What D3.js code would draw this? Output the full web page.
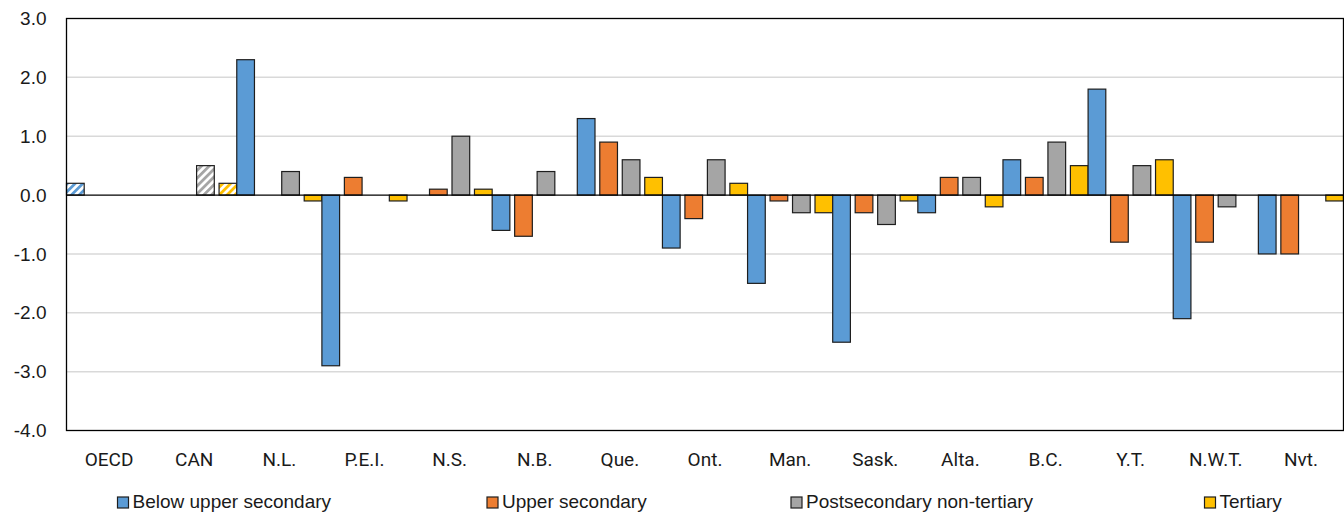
<!DOCTYPE html>
<html>
<head>
<meta charset="utf-8">
<script src="https://cdn.jsdelivr.net/npm/d3@7"></script>
<style>
  html, body { margin: 0; padding: 0; background: #fff; }
  svg { display: block; }
</style>
</head>
<body>
<svg id="chart" width="1344" height="515"></svg>
<script>
// ---- Data ----
const categories = ["OECD","CAN","N.L.","P.E.I.","N.S.","N.B.","Que.","Ont.","Man.","Sask.","Alta.","B.C.","Y.T.","N.W.T.","Nvt."];
const seriesNames = ["Below upper secondary","Upper secondary","Postsecondary non-tertiary","Tertiary"];
const belowUpperSecondary = [0.2, null, 2.3, -2.9, null, -0.6, 1.3, -0.9, -1.5, -2.5, -0.3, 0.6, 1.8, -2.1, -1.0];
const upperSecondary      = [null, null, null, 0.3, 0.1, -0.7, 0.9, -0.4, -0.1, -0.3, 0.3, 0.3, -0.8, -0.8, -1.0];
const postsecNonTertiary  = [null, 0.5, 0.4, null, 1.0, 0.4, 0.6, 0.6, -0.3, -0.5, 0.3, 0.9, 0.5, -0.2, null];
const tertiary            = [null, 0.2, -0.1, -0.1, 0.1, null, 0.3, 0.2, -0.3, -0.1, -0.2, 0.5, 0.6, null, -0.1];
const hatchedCategories = ["OECD","CAN"];
const yTicks = [3, 2, 1, 0, -1, -2, -3, -4];

// ---- Layout / style ----
const colors = ["#5B9BD5", "#ED7D31", "#A5A5A5", "#FFC000"];
const plot = { left: 66.5, right: 1343.5, top: 18.5, bottom: 430.5 };
const legendX = [117.5, 487, 791, 1204.5];

const seriesValues = [belowUpperSecondary, upperSecondary, postsecNonTertiary, tertiary];

const svg = d3.select("#chart");

// hatch patterns
const defs = svg.append("defs");
colors.forEach((c, i) => {
  const p = defs.append("pattern")
    .attr("id", "hatch" + i)
    .attr("patternUnits", "userSpaceOnUse")
    .attr("width", 5.5).attr("height", 5.5)
    .attr("patternTransform", "rotate(45)");
  p.append("rect").attr("width", 5.5).attr("height", 5.5).attr("fill", "#fff");
  p.append("line").attr("x1", 1.4).attr("y1", 0).attr("x2", 1.4).attr("y2", 5.5)
    .attr("stroke", c).attr("stroke-width", 2.8);
});

const x = d3.scaleBand().domain(categories).range([plot.left, plot.right]).padding(0);
const xi = d3.scaleBand().domain(d3.range(4)).range([0, x.bandwidth()]).paddingInner(0.213).paddingOuter(0);
const y = d3.scaleLinear().domain([-4, 3]).range([plot.bottom, plot.top]);

// gridlines
svg.append("g").selectAll("line")
  .data(yTicks.filter(t => t !== 0 && t !== 3 && t !== -4))
  .join("line")
  .attr("x1", plot.left).attr("x2", plot.right)
  .attr("y1", d => y(d)).attr("y2", d => y(d))
  .attr("stroke", "#d9d9d9").attr("stroke-width", 1.5);

// y axis labels
const yAxis = d3.axisLeft(y).tickValues(yTicks).tickFormat(d => d.toFixed(1)).tickSize(0).tickPadding(20);
const yg = svg.append("g").attr("transform", `translate(${plot.left},0)`).call(yAxis);
yg.select(".domain").remove();
yg.selectAll("text")
  .attr("font-family", "'Liberation Sans', Arial, sans-serif")
  .attr("font-size", 19).attr("fill", "#1a1a1a");

// bars
const flat = [];
categories.forEach((c, ci) => {
  seriesValues.forEach((arr, si) => {
    const v = arr[ci];
    if (v !== null && v !== undefined) flat.push({ c, si, v, hatch: hatchedCategories.includes(c) });
  });
});
svg.append("g").selectAll("rect")
  .data(flat)
  .join("rect")
  .attr("x", d => x(d.c) + xi(d.si))
  .attr("width", xi.bandwidth())
  .attr("y", d => Math.min(y(0), y(d.v)))
  .attr("height", d => Math.abs(y(d.v) - y(0)))
  .attr("fill", d => d.hatch ? `url(#hatch${d.si})` : colors[d.si])
  .attr("stroke", "#1e1e1e").attr("stroke-width", 1.2);

// zero line
svg.append("line")
  .attr("x1", plot.left).attr("x2", plot.right)
  .attr("y1", y(0)).attr("y2", y(0))
  .attr("stroke", "#000").attr("stroke-width", 1.3);

// frame
svg.append("rect")
  .attr("x", plot.left).attr("y", plot.top)
  .attr("width", plot.right - plot.left).attr("height", plot.bottom - plot.top)
  .attr("fill", "none").attr("stroke", "#000").attr("stroke-width", 1.3);

// category labels
const xAxis = d3.axisBottom(x).tickSize(0).tickPadding(22);
const xg = svg.append("g").attr("transform", `translate(0,${plot.bottom})`).call(xAxis);
xg.select(".domain").remove();
xg.selectAll("text")
  .attr("font-family", "Roboto, 'Liberation Sans', sans-serif")
  .attr("font-size", 19).attr("fill", "#1a1a1a");

// legend
const lg = svg.append("g").selectAll("g")
  .data(seriesNames)
  .join("g")
  .attr("transform", (d, i) => `translate(${legendX[i]},497)`);
lg.append("rect").attr("width", 11).attr("height", 11)
  .attr("fill", (d, i) => colors[i]).attr("stroke", "#1e1e1e").attr("stroke-width", 1.2);
lg.append("text").attr("x", 15).attr("y", 11)
  .attr("font-family", "'Liberation Sans', Arial, sans-serif")
  .attr("font-size", 19).attr("fill", "#1a1a1a")
  .text(d => d);
</script>
</body>
</html>
